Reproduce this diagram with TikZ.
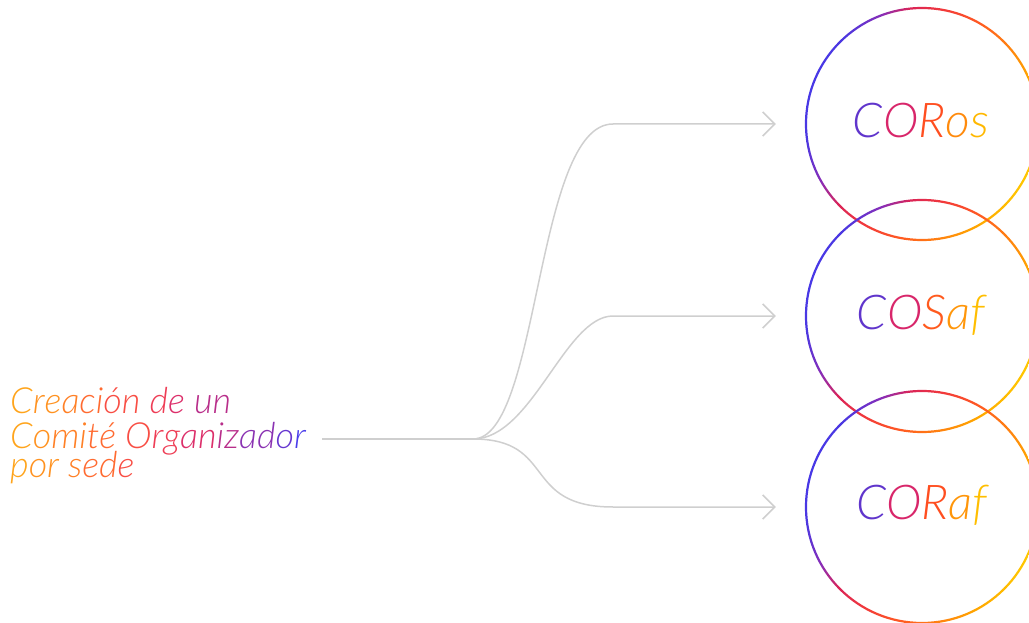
\documentclass[tikz,border=0pt]{standalone}
\usepackage{fontspec}
\usetikzlibrary{arrows.meta}
\IfFontExistsTF{Lato Light Italic}{\newfontfamily\lfont{Lato Light Italic}}{%
  \IfFontExistsTF{Fira Sans Light Italic}{\newfontfamily\lfont{Fira Sans Light Italic}}{%
    \newfontfamily\lfont{Liberation Sans Italic}}}
% left text gradient
\definecolor{k0}{HTML}{FFA41B}
\definecolor{k1}{HTML}{FF9220}
\definecolor{k2}{HTML}{FF8026}
\definecolor{k3}{HTML}{FF6A30}
\definecolor{k4}{HTML}{F84E44}
\definecolor{k5}{HTML}{EE3D55}
\definecolor{k6}{HTML}{DC2F6A}
\definecolor{k7}{HTML}{B82E8A}
\definecolor{k8}{HTML}{8A32B2}
\definecolor{k9}{HTML}{6637D0}
\definecolor{k10}{HTML}{4A3DEB}
% label colours
\definecolor{lC}{HTML}{6035CC}
\definecolor{lO}{HTML}{D8266A}
\definecolor{lR}{HTML}{FF4E20}
\definecolor{lS}{HTML}{FF5A1E}
\definecolor{lo}{HTML}{FF8A0C}
\definecolor{la}{HTML}{FF960A}
\definecolor{ls}{HTML}{FFB800}
\definecolor{lf}{HTML}{FFBE00}
% ring colours
\definecolor{r0}{HTML}{4838E6}
\definecolor{r1}{HTML}{4C37E0}
\definecolor{r2}{HTML}{8A2DB5}
\definecolor{r3}{HTML}{DA2458}
\definecolor{r4}{HTML}{F23A3A}
\definecolor{r5}{HTML}{FF5A22}
\definecolor{r6}{HTML}{FF7E12}
\definecolor{r7}{HTML}{FFA400}
\definecolor{r8}{HTML}{FFC800}
\definecolor{linegray}{HTML}{CFCFCF}
\pgfdeclarehorizontalshading{ringgrad}{100bp}{color(0bp)=(r0); color(25bp)=(r0); color(28bp)=(r1); color(34bp)=(r2); color(39bp)=(r3); color(46bp)=(r4); color(54bp)=(r5); color(61bp)=(r6); color(68bp)=(r7); color(75bp)=(r8); color(100bp)=(r8)}
\newcommand\cc[2]{\textcolor{#1}{#2}}
\tikzset{
  conn/.style={draw=linegray, line width=1.5pt, -{Straight Barb[length=12pt,width=24pt]}},
  stem/.style={draw=linegray, line width=1.5pt},
  leftlbl/.style={font={\lfont\fontsize{36}{35}\selectfont\lineskiplimit=-60pt}, align=left, anchor=base west, inner sep=0pt},
  circlbl/.style={font=\lfont\fontsize{48}{48}\selectfont, anchor=base, inner sep=0pt},
  ringnode/.style={circle, minimum size=232pt, inner sep=0pt},
  ring/.style={shading=ringgrad, shading angle=-20, even odd rule}
}
\begin{document}
\begin{tikzpicture}[x=1pt,y=-1pt]
\useasboundingbox (0,0) rectangle (1029,623);
% circles
\node[ringnode] (c1) at (922,124) {};
\node[ringnode] (c2) at (922,316) {};
\node[ringnode] (c3) at (922,507) {};
\shade[ring] (c1.center) circle[radius=117.1pt] (c1.center) circle[radius=114.9pt];
\shade[ring] (c2.center) circle[radius=117.1pt] (c2.center) circle[radius=114.9pt];
\shade[ring] (c3.center) circle[radius=117.1pt] (c3.center) circle[radius=114.9pt];
% circle labels
\node[circlbl] (t1) at (921,137.5) {\cc{lC}{C}\cc{lO}{O}\cc{lR}{R}\cc{lo}{o}\cc{ls}{s}};
\node[circlbl] (t2) at (921,329.5) {\cc{lC}{C}\cc{lO}{O}\cc{lS}{S}\cc{la}{a}\cc{lf}{f}};
\node[circlbl] (t3) at (922,519.5) {\cc{lC}{C}\cc{lO}{O}\cc{lR}{R}\cc{la}{a}\cc{lf}{f}};
% left text (base anchor = baseline of last line)
\node[leftlbl] (src) at (10,477) {\cc{k0}{C}\cc{k1}{r}\cc{k1}{e}\cc{k2}{a}\cc{k3}{c}\cc{k3}{i}\cc{k4}{ó}\cc{k4}{n} \cc{k5}{d}\cc{k6}{e} \cc{k7}{u}\cc{k7}{n}\\
\cc{k0}{C}\cc{k1}{o}\cc{k2}{m}\cc{k2}{i}\cc{k3}{t}\cc{k3}{é} \cc{k4}{O}\cc{k5}{r}\cc{k5}{g}\cc{k6}{a}\cc{k6}{n}\cc{k7}{i}\cc{k7}{z}\cc{k8}{a}\cc{k8}{d}\cc{k9}{o}\cc{k10}{r}\\[-6pt]
\cc{k0}{p}\cc{k1}{o}\cc{k1}{r} \cc{k2}{s}\cc{k3}{e}\cc{k3}{d}\cc{k4}{e}};
% connectors
\coordinate (j) at (473,439);
\coordinate (e1) at ([xshift=-30pt]c1.west);
\coordinate (e2) at ([xshift=-30pt]c2.west);
\coordinate (e3) at ([xshift=-30pt]c3.west);
\draw[stem] ([xshift=16pt]src.east |- j) -- (j);
\draw[conn] (j) .. controls (540,439) and (535,124) .. (613,124) -- (e1);
\draw[conn] (j) .. controls (532,439) and (565,316) .. (613,316) -- (e2);
\draw[conn] (j) .. controls (557,439) and (521,507) .. (613,507) -- (e3);
\end{tikzpicture}
\end{document}
